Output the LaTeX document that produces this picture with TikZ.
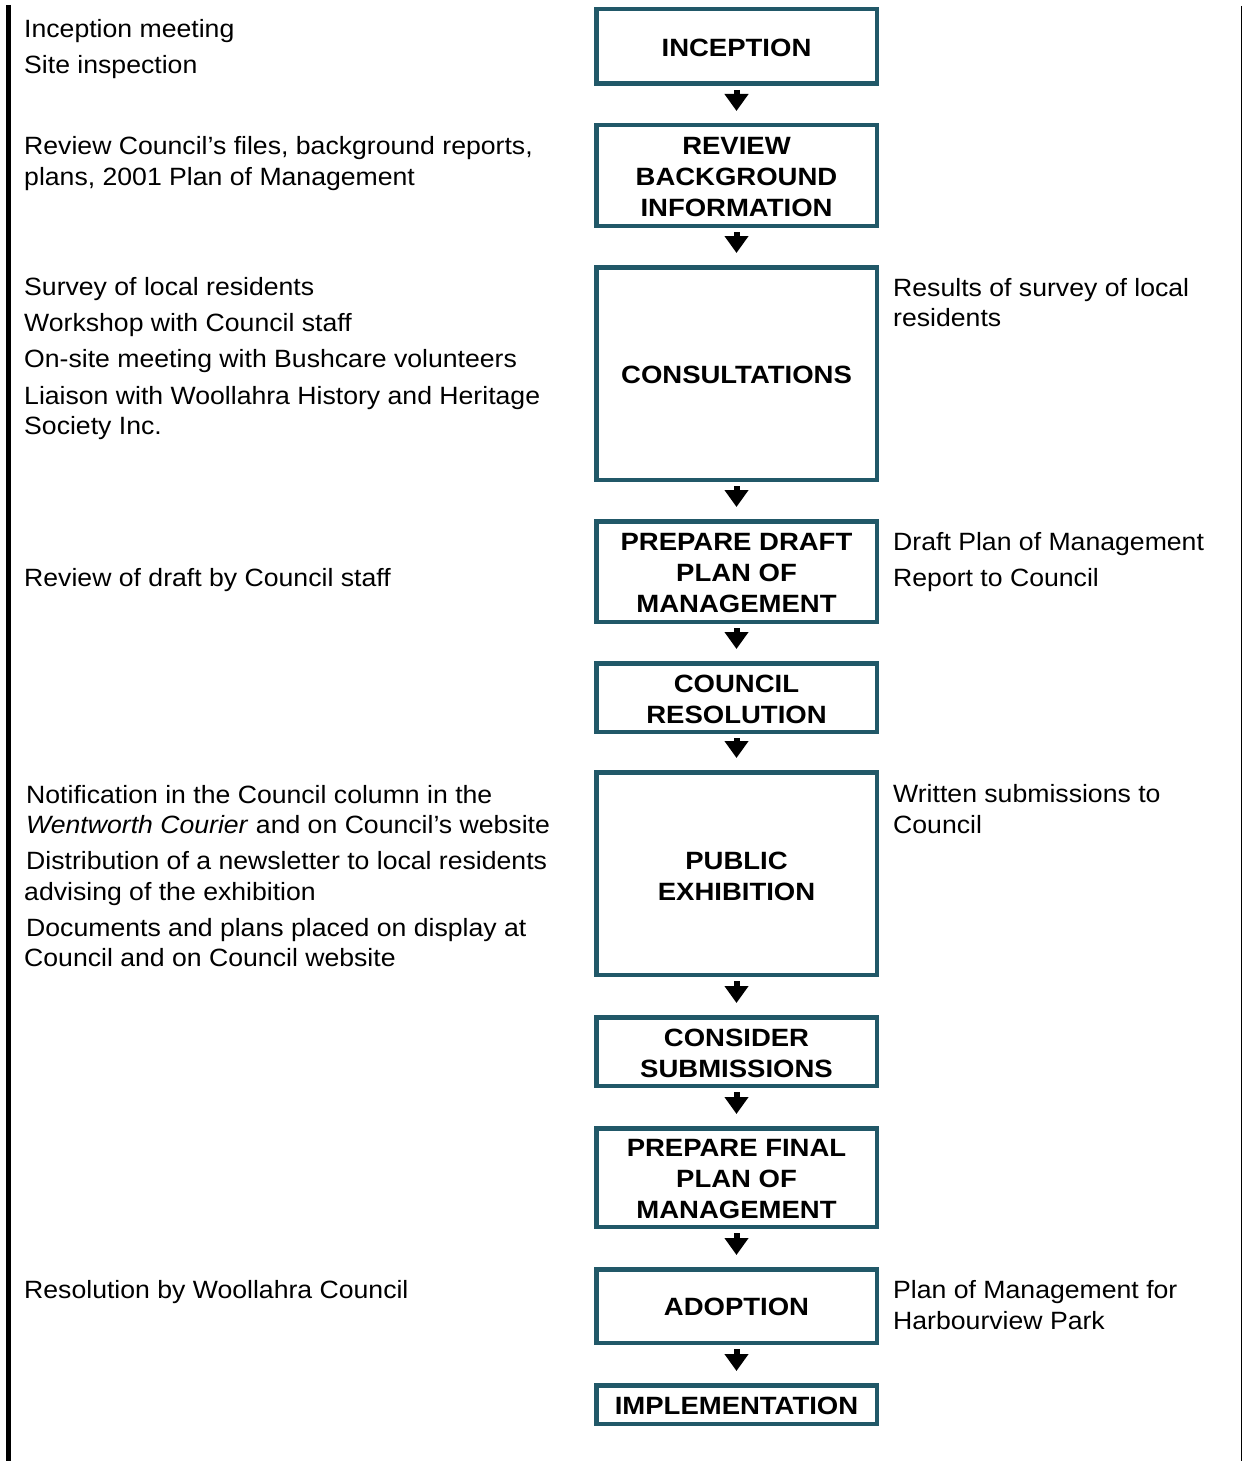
\documentclass[tikz,border=0pt]{standalone}
\usepackage{fontspec}
\setmainfont{Liberation Sans}[UprightFeatures={FakeStretch=1.065}, ItalicFeatures={FakeStretch=1.065}, BoldFeatures={FakeStretch=1.1}]
\usetikzlibrary{arrows.meta}
\definecolor{boxcol}{RGB}{33,88,104}
\tikzset{
  stage/.style={draw=boxcol, line width=4.5pt, minimum width=280.5pt, inner sep=0pt},
  stagetxt/.style={inner sep=0pt, align=center, font=\fontsize{25}{31}\selectfont\bfseries},
  txt/.style={anchor=base west, inner sep=0pt, font=\fontsize{25}{31}\selectfont},
  flow/.style={line width=6pt, -{Triangle[width=23pt,length=17pt]}, shorten <=4pt, shorten >=12pt}
}
\begin{document}
\begin{tikzpicture}[x=1pt,y=-1pt]
\useasboundingbox (0,0) rectangle (1243,1461);
% side rules
\coordinate (lt) at (8.5,5); \coordinate (lb) at (8.5,1461);
\coordinate (rt) at (1241.5,6); \coordinate (rb) at (1241.5,1461);
\draw[line width=5pt] (lt) -- (lb);
\draw[line width=1.3pt] (rt) -- (rb);
% stages
\node[stage, minimum height=74.5pt] (s1) at (736.5,46.5) {};
\node[stage, minimum height=100.5pt] (s2) at (736.5,175.5) {};
\node[stage, minimum height=212.5pt] (s3) at (736.5,373.5) {};
\node[stage, minimum height=100.5pt] (s4) at (736.5,571.5) {};
\node[stage, minimum height=68.5pt] (s5) at (736.5,697.5) {};
\node[stage, minimum height=202.5pt] (s6) at (736.5,873.5) {};
\node[stage, minimum height=68.5pt] (s7) at (736.5,1051.5) {};
\node[stage, minimum height=98.5pt] (s8) at (736.5,1177.5) {};
\node[stage, minimum height=73.5pt] (s9) at (736.5,1306) {};
\node[stage, minimum height=38.5pt] (s10) at (736.5,1404.5) {};
\node[stagetxt] (t1) at ([yshift=-1pt]s1.center) {INCEPTION};
\node[stagetxt] (t2) at ([yshift=-2pt]s2.center) {REVIEW\\BACKGROUND\\INFORMATION};
\node[stagetxt] (t3) at ([yshift=-1pt]s3.center) {CONSULTATIONS};
\node[stagetxt] (t4) at ([yshift=-2pt]s4.center) {PREPARE DRAFT\\PLAN OF\\MANAGEMENT};
\node[stagetxt] (t5) at ([yshift=-2pt]s5.center) {COUNCIL\\RESOLUTION};
\node[stagetxt] (t6) at ([yshift=-2.5pt]s6.center) {PUBLIC\\EXHIBITION};
\node[stagetxt] (t7) at ([yshift=-2pt]s7.center) {CONSIDER\\SUBMISSIONS};
\node[stagetxt] (t8) at ([yshift=-2pt]s8.center) {PREPARE FINAL\\PLAN OF\\MANAGEMENT};
\node[stagetxt] (t9) at ([yshift=-1pt]s9.center) {ADOPTION};
\node[stagetxt] (t10) at ([yshift=-1pt]s10.center) {IMPLEMENTATION};
\foreach \a/\b in {s1/s2,s2/s3,s3/s4,s4/s5,s5/s6,s6/s7,s7/s8,s8/s9,s9/s10}
  \draw[flow] (\a.south) -- (\b.north);
% left texts
\node[txt] (l1) at (24,37.5) {Inception meeting};
\node[txt] (l2) at (24,73.5) {Site inspection};
\node[txt] (l3) at (24,154) {Review Council’s files, background reports,};
\node[txt] (l4) at (24,185) {plans, 2001 Plan of Management};
\node[txt] (l5) at (24,295) {Survey of local residents};
\node[txt] (l6) at (24,331) {Workshop with Council staff};
\node[txt] (l7) at (24,367) {On-site meeting with Bushcare volunteers};
\node[txt] (l8) at (24,404) {Liaison with Woollahra History and Heritage};
\node[txt] (l9) at (24,434) {Society Inc.};
\node[txt] (l10) at (24,586) {Review of draft by Council staff};
\node[txt] (l11) at (26,803) {Notification in the Council column in the};
\node[txt] (l12) at (26,833) {\textit{Wentworth Courier} and on Council’s website};
\node[txt] (l13) at (26,869) {Distribution of a newsletter to local residents};
\node[txt] (l14) at (24,900) {advising of the exhibition};
\node[txt] (l15) at (26,936) {Documents and plans placed on display at};
\node[txt] (l16) at (24,966) {Council and on Council website};
\node[txt] (l17) at (24,1298) {Resolution by Woollahra Council};
% right texts
\node[txt] (r1) at (893,296) {Results of survey of local};
\node[txt] (r2) at (893,326) {residents};
\node[txt] (r3) at (893,550) {Draft Plan of Management};
\node[txt] (r4) at (893,586) {Report to Council};
\node[txt] (r5) at (893,802) {Written submissions to};
\node[txt] (r6) at (893,833) {Council};
\node[txt] (r7) at (893,1298) {Plan of Management for};
\node[txt] (r8) at (893,1329) {Harbourview Park};
\end{tikzpicture}
\end{document}
